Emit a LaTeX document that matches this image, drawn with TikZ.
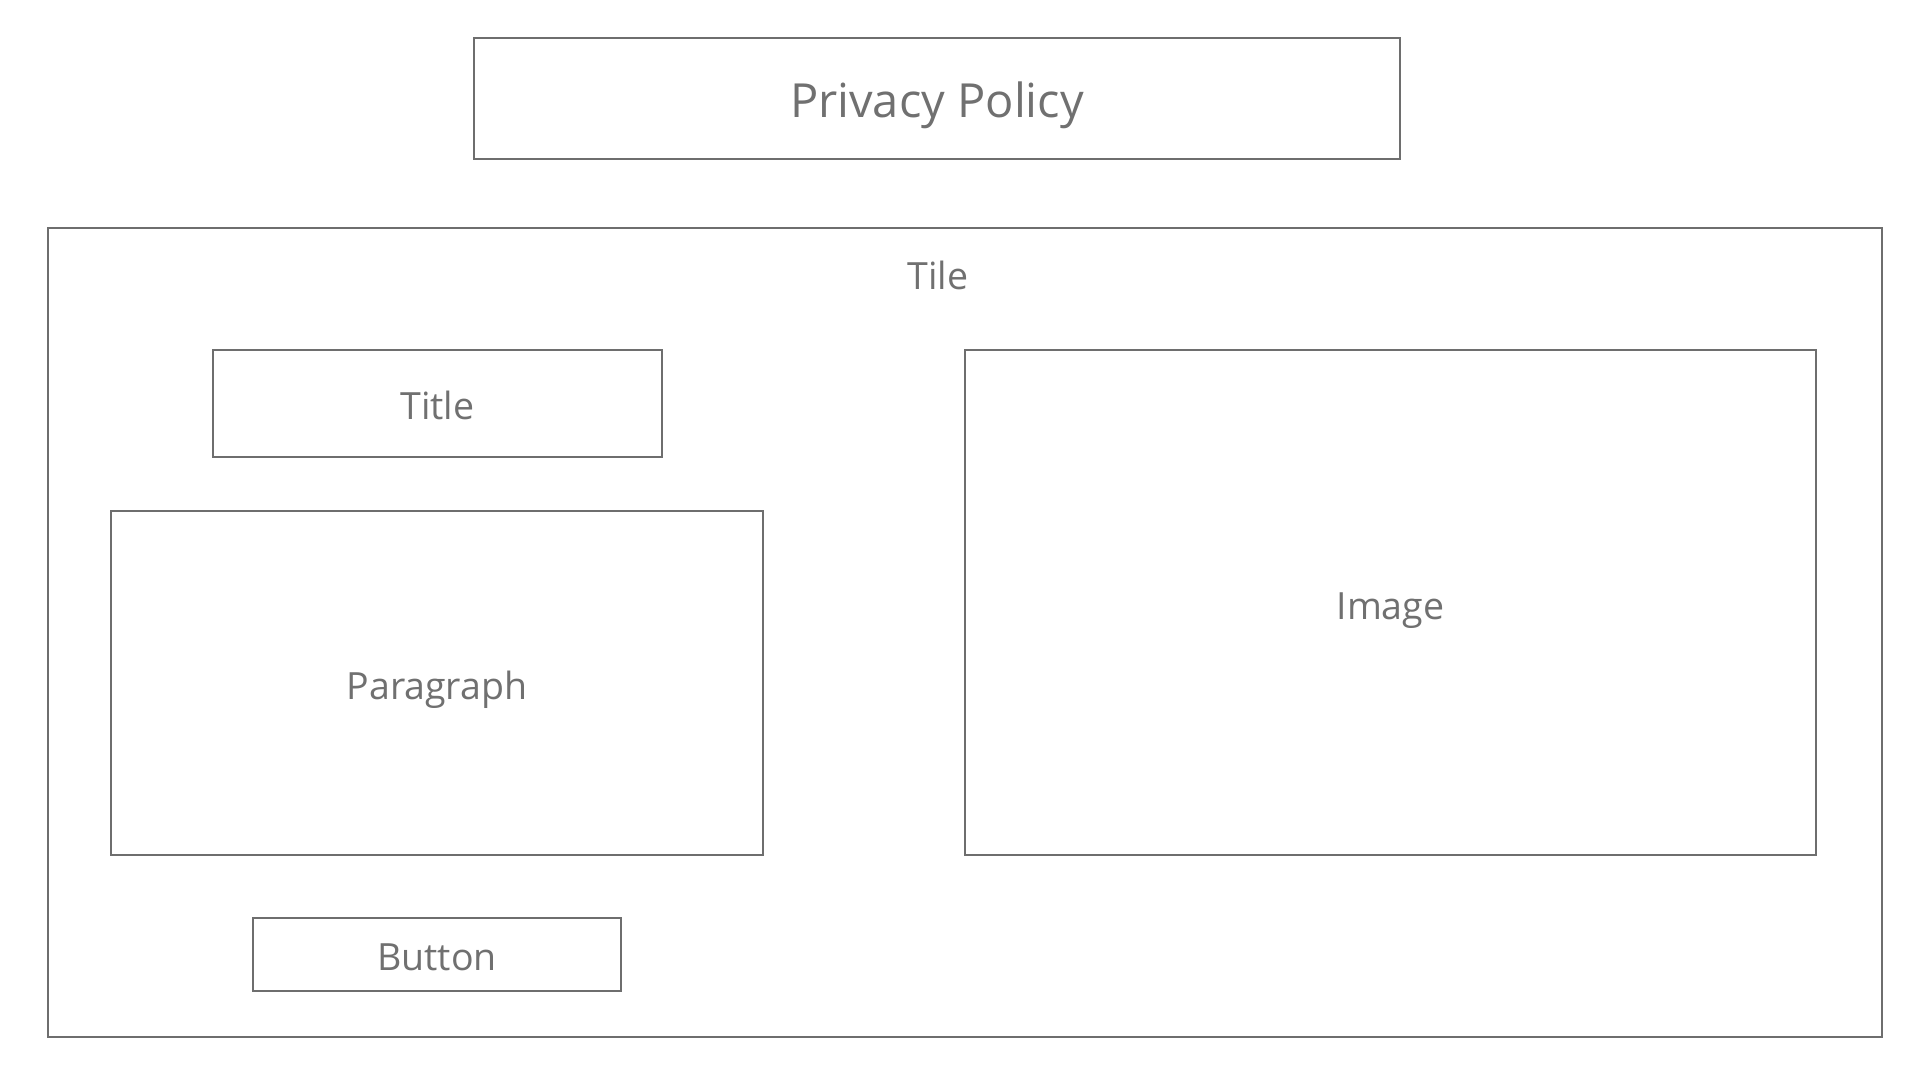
\documentclass[tikz,border=0pt]{standalone}
\usepackage{fontspec}
\setmainfont{Open Sans}
\definecolor{boxline}{HTML}{6E6E6E}
\definecolor{boxtext}{HTML}{707070}
\tikzset{
  label text/.style={text=boxtext, inner sep=0pt, text height=26.8pt, text depth=0pt, font=\fontsize{37.5}{42}\selectfont},
  head text/.style={label text, text height=33.5pt, font=\fontsize{47}{52}\selectfont},
  wire/.style={shape=rectangle, draw=boxline, line width=1.3pt, inner sep=0pt}
}
\begin{document}
\begin{tikzpicture}[x=1pt, y=-1pt]
\useasboundingbox[fill=white] (0,0) rectangle (1920,1080);
\node[wire, minimum width=926pt, minimum height=121pt] (privacy) at (937,98.5) {};
\node[head text] (privacytext) at (937,100.5) {Privacy Policy};
\node[wire, minimum width=1834pt, minimum height=809pt] (tile) at (965,632.5) {};
\node[label text] (tiletext) at (938,276) {Tile};
\node[wire, minimum width=449pt, minimum height=107pt] (title) at (437.5,403.5) {};
\node[label text] (titletext) at (437.5,406) {Title};
\node[wire, minimum width=652pt, minimum height=344pt] (paragraph) at (437,683) {};
\node[label text] (paragraphtext) at (437,686) {Paragraph};
\node[wire, minimum width=851pt, minimum height=505pt] (image) at (1390.5,602.5) {};
\node[label text] (imagetext) at (1390.5,606) {Image};
\node[wire, minimum width=368pt, minimum height=73pt] (button) at (437,954.5) {};
\node[label text] (buttontext) at (437,957) {Button};
\end{tikzpicture}
\end{document}
